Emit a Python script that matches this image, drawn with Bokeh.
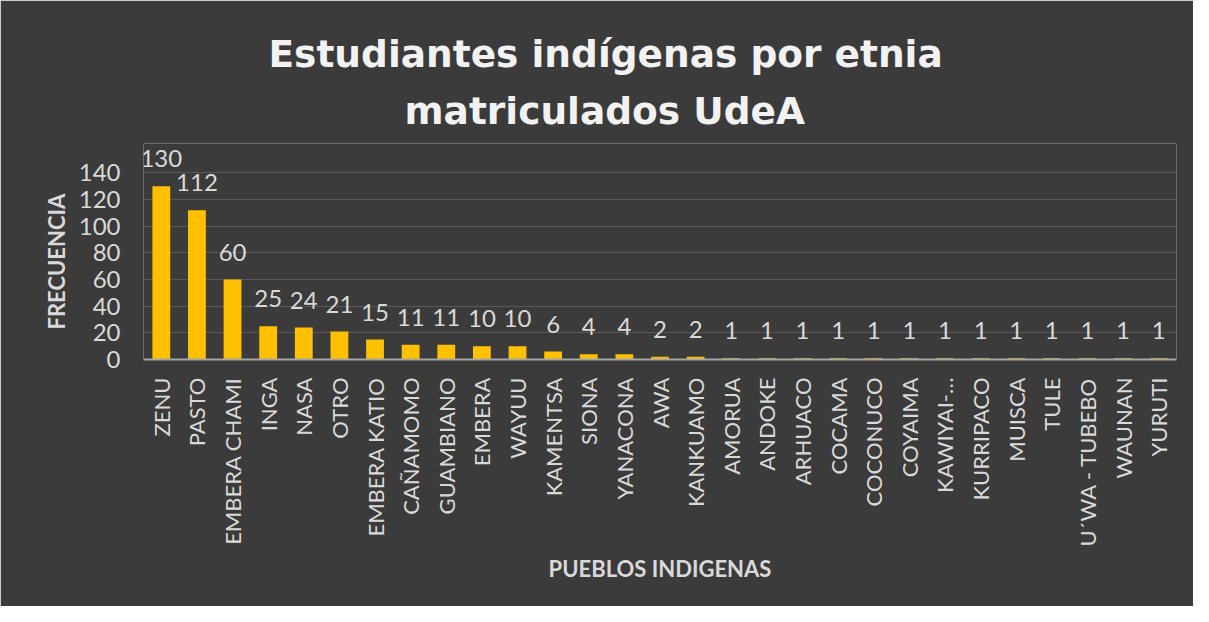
import math
from bokeh.plotting import figure
from bokeh.models import ColumnDataSource, FactorRange, Range1d, FixedTicker, LabelSet, Title
from bokeh.core.properties import value
from bokeh.embed import file_html
from bokeh.resources import INLINE

categories = ["ZENU", "PASTO", "EMBERA CHAMI", "INGA", "NASA", "OTRO", "EMBERA KATIO",
              "CAÑAMOMO", "GUAMBIANO", "EMBERA", "WAYUU", "KAMENTSA", "SIONA", "YANACONA",
              "AWA", "KANKUAMO", "AMORUA", "ANDOKE", "ARHUACO", "COCAMA", "COCONUCO",
              "COYAIMA", "KAWIYAI-…", "KURRIPACO", "MUISCA", "TULE", "U´WA - TUBEBO",
              "WAUNAN", "YURUTI"]
frecuencia = [130, 112, 60, 25, 24, 21, 15, 11, 11, 10, 10, 6, 4, 4,
              2, 2, 1, 1, 1, 1, 1, 1, 1, 1, 1, 1, 1, 1, 1]
y_ticks = [0, 20, 40, 60, 80, 100, 120, 140]

title_line1 = "Estudiantes indígenas por etnia"
title_line2 = "matriculados UdeA"
x_title = "PUEBLOS INDIGENAS"
y_title = "FRECUENCIA"

source = ColumnDataSource(data=dict(cat=categories, val=frecuencia,
                                    lbl=[str(v) for v in frecuencia]))

BG = "#3b3b3b"
TXT = "#d9d9d9"
FONT = "Lato"

p = figure(x_range=FactorRange(factors=categories), y_range=Range1d(0, 162),
           width=1193, height=606, output_backend="svg", toolbar_location=None,
           min_border_left=143, min_border_right=17, min_border_top=143,
           min_border_bottom=247)

p.background_fill_color = BG
p.border_fill_color = BG
p.outline_line_color = None

p.vbar(x="cat", top="val", width=0.5, source=source,
       fill_color="#FFC000", line_color=None)

labels = LabelSet(x="cat", y="val", text="lbl", source=source,
                  text_align="center", text_baseline="alphabetic",
                  y_offset=19, text_color=TXT, text_font=value(FONT),
                  text_font_size="24px")
p.add_layout(labels)

# titles (p.title is the farther line; later-added title sits closer to the plot)
p.title.text = title_line1
p.title.align = "left"
p.title.offset = 125
p.title.text_font = "DejaVu Sans"
p.title.text_font_style = "bold"
p.title.text_font_size = "37.5px"
p.title.text_color = "#f2f2f2"
p.title.standoff = 0
t2 = Title(text=title_line2, align="left", offset=261, text_font="DejaVu Sans",
           text_font_style="bold", text_font_size="37.5px", text_color="#f2f2f2",
           standoff=22)
p.add_layout(t2, "above")

# y axis title as a left-side Title so it can be centred on the 0-140 span
p.yaxis.axis_label = None
yt = Title(text=y_title, align="left", offset=30, text_font=FONT, text_font_style="bold",
           text_font_size="22px", text_color=TXT, standoff=12)
p.add_layout(yt, "left")

# axes
p.xaxis.major_label_orientation = math.pi / 2
p.xaxis.major_tick_line_color = None
p.xaxis.minor_tick_line_color = None
p.xaxis.axis_line_color = "#a6a6a6"
p.xaxis.axis_line_width = 2
p.xaxis.major_label_standoff = 12
p.xaxis.major_label_text_color = TXT
p.xaxis.major_label_text_font = FONT
p.xaxis.major_label_text_font_size = "22px"
p.xaxis.axis_label = x_title
p.xaxis.axis_label_text_font = FONT
p.xaxis.axis_label_text_font_style = "bold"
p.xaxis.axis_label_text_font_size = "22px"
p.xaxis.axis_label_text_color = TXT
p.xaxis.axis_label_standoff = 5

p.yaxis.ticker = FixedTicker(ticks=y_ticks)
p.yaxis.axis_line_color = None
p.yaxis.major_tick_line_color = None
p.yaxis.minor_tick_line_color = None
p.yaxis.major_label_standoff = 17
p.yaxis.major_label_text_color = TXT
p.yaxis.major_label_text_font = FONT
p.yaxis.major_label_text_font_size = "24px"

p.xgrid.grid_line_color = None
p.ygrid.grid_line_color = "#595959"
p.ygrid.grid_line_width = 1

open("out.html", "w").write(file_html(p, INLINE))
